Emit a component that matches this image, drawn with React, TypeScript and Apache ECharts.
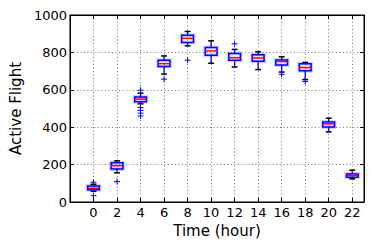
import React, { useEffect, useRef } from "react";
import * as echarts from "echarts";

const hours = [0, 2, 4, 6, 8, 10, 12, 14, 16, 18, 20, 22];
const lowerWhisker = [57, 156, 525, 684, 835, 742, 722, 708, 695, 655, 375, 124];
const q1 = [65, 176, 536, 724, 853, 785, 758, 753, 733, 702, 401, 133];
const median = [73, 194, 550, 740, 875, 808, 772, 770, 751, 719, 418, 141];
const q3 = [86, 210, 561, 758, 892, 826, 794, 788, 759, 739, 428, 150];
const upperWhisker = [95, 220, 582, 781, 912, 862, 816, 803, 777, 746, 448, 170];
const outlierHours = [0, 0, 2, 4, 4, 4, 4, 4, 6, 8, 12, 16, 18];
const outlierValues = [106, 34, 109, 598, 505, 490, 475, 460, 657, 758, 846, 683, 645];
const xTickLabels = ["0", "2", "4", "6", "8", "10", "12", "14", "16", "18", "20", "22"];
const yTicks = [0, 200, 400, 600, 800, 1000];

const FONT = "DejaVu Sans";

export default function App() {
  const ref = useRef<HTMLDivElement>(null);
  useEffect(() => {
    if (!ref.current) return;
    const chart = echarts.init(ref.current, null, { renderer: "svg" });
    const boxData = hours.map((h, i) => [h, lowerWhisker[i], q1[i], median[i], q3[i], upperWhisker[i]]);
    const outData = outlierHours.map((h, i) => [h, outlierValues[i]]);
    const tickLabelFmt = (v: number) => (xTickLabels.includes(String(v)) ? String(v) : "");
    const axisLine = { show: true, onZero: false, lineStyle: { color: "#000", width: 1 } };
    const axisTick = { show: true, inside: true, length: 4, lineStyle: { color: "#000" } };
    const grid = { show: true, lineStyle: { color: "#777", type: [1, 2.5], width: 1 } };
    chart.setOption({
      animation: false,
      backgroundColor: "#fff",
      textStyle: { fontFamily: FONT },
      grid: { left: 64, top: 15, width: 300, height: 187, show: true, borderColor: "#000", borderWidth: 1 },
      xAxis: [
        {
          type: "value",
          min: -2,
          max: 23,
          interval: 2,
          name: "Time (hour)",
          nameLocation: "middle",
          nameGap: 21,
          nameTextStyle: { fontSize: 15, color: "#000", fontFamily: FONT },
          axisLine,
          axisTick,
          axisLabel: { fontSize: 13, color: "#000", margin: 4, fontFamily: FONT, formatter: tickLabelFmt, showMinLabel: true, showMaxLabel: true },
          splitLine: grid,
        },
        {
          type: "value",
          position: "top",
          min: -2,
          max: 23,
          interval: 2,
          axisLine,
          axisTick,
          axisLabel: { show: false },
          splitLine: { show: false },
        },
      ],
      yAxis: [
        {
          type: "value",
          min: 0,
          max: 1000,
          interval: 200,
          name: "Active Flight",
          nameLocation: "middle",
          nameGap: 39,
          nameTextStyle: { fontSize: 15, color: "#000", fontFamily: FONT },
          axisLine,
          axisTick,
          axisLabel: { fontSize: 13, color: "#000", margin: 3, fontFamily: FONT, formatter: (v: number) => (yTicks.includes(v) ? String(v) : "") },
          splitLine: grid,
        },
        {
          type: "value",
          position: "right",
          min: 0,
          max: 1000,
          interval: 200,
          axisLine,
          axisTick,
          axisLabel: { show: false },
          splitLine: { show: false },
        },
      ],
      series: [
        {
          type: "custom",
          xAxisIndex: 0,
          yAxisIndex: 0,
          data: boxData,
          encode: { x: 0, y: [1, 2, 3, 4, 5] },
          renderItem: (params: any, api: any) => {
            const x = api.value(0);
            const pLow = api.coord([x, api.value(1)]);
            const pQ1 = api.coord([x, api.value(2)]);
            const pMed = api.coord([x, api.value(3)]);
            const pQ3 = api.coord([x, api.value(4)]);
            const pHigh = api.coord([x, api.value(5)]);
            const w = api.size([1, 0])[0];
            const cw = w / 2;
            const cx = pMed[0];
            const halo = "rgba(90,90,255,0.28)";
            return {
              type: "group",
              children: [
                { type: "rect", shape: { x: cx - w / 2, y: pQ3[1], width: w, height: pQ1[1] - pQ3[1] }, style: { fill: "none", stroke: halo, lineWidth: 4 } },
                { type: "line", shape: { x1: cx, y1: pQ1[1], x2: cx, y2: pLow[1] }, style: { stroke: "#0000ff", lineWidth: 1.3 } },
                { type: "line", shape: { x1: cx, y1: pQ3[1], x2: cx, y2: pHigh[1] }, style: { stroke: "#0000ff", lineWidth: 1.3 } },
                { type: "line", shape: { x1: cx - cw / 2, y1: pLow[1], x2: cx + cw / 2, y2: pLow[1] }, style: { stroke: "#000", lineWidth: 1.5 } },
                { type: "line", shape: { x1: cx - cw / 2, y1: pHigh[1], x2: cx + cw / 2, y2: pHigh[1] }, style: { stroke: "#000", lineWidth: 1.5 } },
                { type: "rect", shape: { x: cx - w / 2, y: pQ3[1], width: w, height: pQ1[1] - pQ3[1] }, style: { fill: "none", stroke: "#0000ff", lineWidth: 1.5 } },
                { type: "line", shape: { x1: cx - w / 2, y1: pMed[1], x2: cx + w / 2, y2: pMed[1] }, style: { stroke: "#ff0000", lineWidth: 1.5 } },
              ],
            };
          },
          z: 5,
        },
        {
          type: "custom",
          xAxisIndex: 0,
          yAxisIndex: 0,
          data: outData,
          encode: { x: 0, y: 1 },
          renderItem: (params: any, api: any) => {
            const p = api.coord([api.value(0), api.value(1)]);
            const s = 3;
            return {
              type: "group",
              children: [
                { type: "line", shape: { x1: p[0] - s, y1: p[1], x2: p[0] + s, y2: p[1] }, style: { stroke: "#0000ff", lineWidth: 1 } },
                { type: "line", shape: { x1: p[0], y1: p[1] - s, x2: p[0], y2: p[1] + s }, style: { stroke: "#0000ff", lineWidth: 1 } },
              ],
            };
          },
          z: 6,
        },
      ],
    });
    return () => chart.dispose();
  }, []);
  return <div ref={ref} style={{ position: "fixed", left: 0, top: 0, width: 374, height: 249, background: "#fff" }} />;
}
